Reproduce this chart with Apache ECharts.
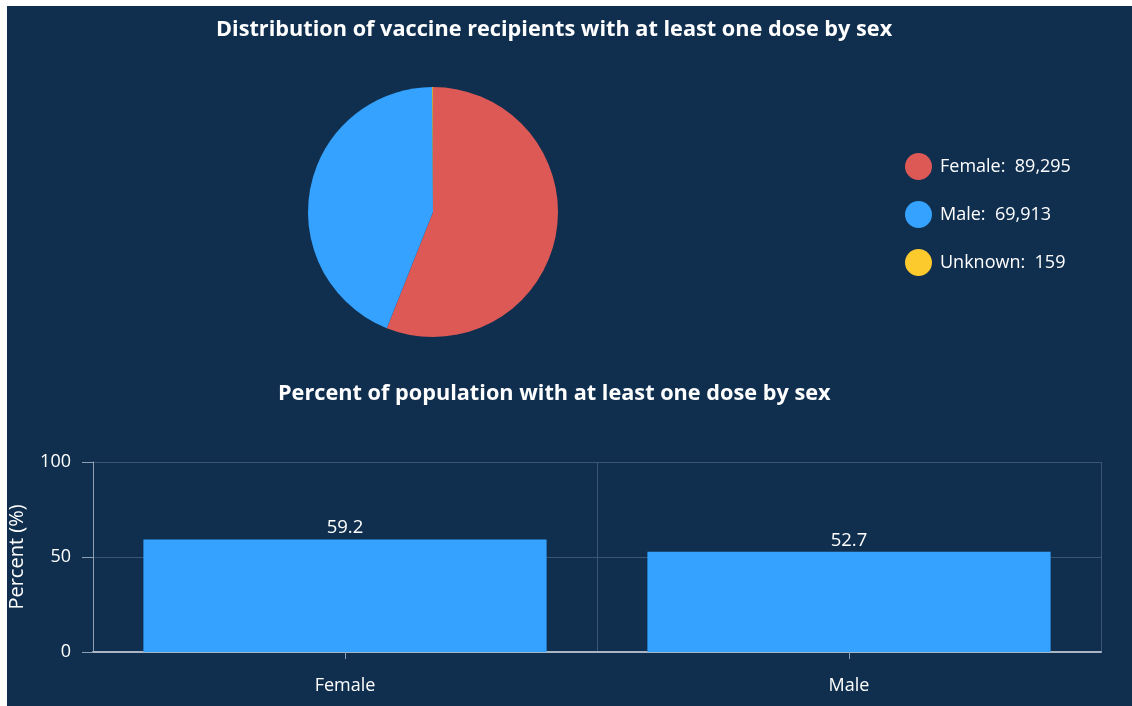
<!DOCTYPE html>
<html><head><meta charset="utf-8">
<script src="https://cdn.jsdelivr.net/npm/echarts@6/dist/echarts.min.js"></script>
<style>
html,body{margin:0;padding:0;background:#ffffff;}
#c{position:absolute;left:7px;top:6px;width:1125px;height:700px;background:#102f4f;}
</style></head><body>
<div id="c"></div>
<script>
const pieNames = ['Female', 'Male', 'Unknown'];
const pieValues = [89295, 69913, 159];
const pieColors = ['#dc5956', '#34a2fe', '#fdca2e'];
const barCategories = ['Female', 'Male'];
const barValues = [59.2, 52.7];
const yTicks = [0, 50, 100];

const chart = echarts.init(document.getElementById('c'), null, {renderer: 'canvas'});
const font = '"Open Sans", "Noto Sans", sans-serif';
const fmt = v => v.toLocaleString('en-US');
const valueMap = {};
pieNames.forEach((n, i) => valueMap[n] = pieValues[i]);

chart.setOption({
  backgroundColor: '#102f4f',
  animation: false,
  textStyle: {fontFamily: font},
  title: [
    {text: 'Distribution of vaccine recipients with at least one dose by sex', left: 204, top: 8,
     textStyle: {color: '#ffffff', fontSize: 21.7, fontWeight: 'bold', fontFamily: font}},
    {text: 'Percent of population with at least one dose by sex', left: 266, top: 372,
     textStyle: {color: '#ffffff', fontSize: 21.7, fontWeight: 'bold', fontFamily: font}}
  ],
  legend: {
    orient: 'vertical', left: 893, top: 142, icon: 'circle', itemWidth: 27, itemHeight: 27, itemGap: 21,
    data: pieNames,
    formatter: n => n + ':  ' + fmt(valueMap[n]),
    textStyle: {color: '#ffffff', fontSize: 18, fontFamily: font, padding: [0, 0, 0, 3]}
  },
  grid: {left: 86, right: 31, top: 456, bottom: 54, containLabel: false, outerBoundsMode: 'none'},
  xAxis: {
    type: 'category', data: barCategories,
    axisLine: {lineStyle: {color: '#aab6c4', width: 2}},
    axisTick: {show: true, alignWithLabel: true, length: 7, lineStyle: {color: '#8fa0b3'}},
    axisLabel: {color: '#ffffff', fontSize: 18, margin: 25, fontFamily: font},
    splitLine: {show: true, lineStyle: {color: '#3b5674'}}
  },
  yAxis: {
    type: 'value', min: 0, max: 100, interval: 50,
    name: 'Percent (%)', nameLocation: 'middle', nameGap: 66, nameRotate: 90,
    nameTextStyle: {color: '#ffffff', fontSize: 20, fontFamily: font},
    axisLine: {show: true, lineStyle: {color: '#8fa0b3'}},
    axisTick: {show: true, length: 11, lineStyle: {color: '#8fa0b3'}},
    axisLabel: {color: '#ffffff', fontSize: 18, margin: 22, fontFamily: font,
      formatter: v => yTicks.includes(v) ? String(v) : ''},
    splitLine: {lineStyle: {color: '#3b5674'}}
  },
  series: [
    {
      type: 'pie', center: [426, 206], radius: 125, startAngle: 90, clockwise: true,
      label: {show: false}, labelLine: {show: false},
      itemStyle: {borderWidth: 0},
      data: pieNames.map((n, i) => ({name: n, value: pieValues[i], itemStyle: {color: pieColors[i]}}))
    },
    {
      type: 'bar', data: barValues, barWidth: '80%',
      itemStyle: {color: '#34a2fe'},
      label: {show: true, position: 'top', color: '#ffffff', fontSize: 18.5, distance: 2, fontFamily: font,
        formatter: p => p.value.toFixed(1)}
    }
  ]
});
</script>
</body></html>
